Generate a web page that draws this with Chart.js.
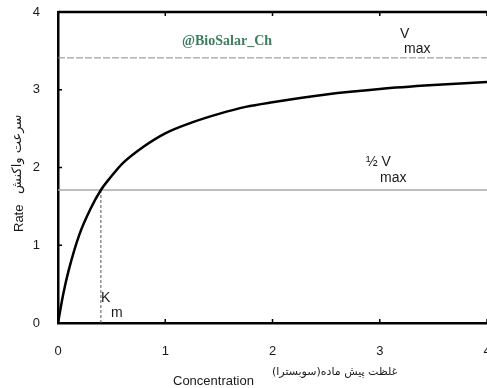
<!DOCTYPE html>
<html>
<head>
<meta charset="utf-8">
<script src="https://cdn.jsdelivr.net/npm/chart.js@4.4.0/dist/chart.umd.min.js"></script>
<style>
  html, body { margin: 0; padding: 0; background: #fff; overflow: hidden; }
  #wrap { width: 487px; height: 388px; }
</style>
</head>
<body>
<div id="wrap"><canvas id="mm" width="487" height="388"></canvas></div>
<script>
// Michaelis-Menten curve
const concentration = [0, 0.05, 0.1, 0.2, 0.3, 0.4, 0.5, 0.6, 0.8, 1.0, 1.25, 1.5, 1.75, 2.0, 2.5, 3.0, 3.5, 4.0];
const rate = [0, 0.38, 0.68, 1.14, 1.46, 1.71, 1.89, 2.05, 2.27, 2.44, 2.58, 2.69, 2.78, 2.84, 2.94, 3.01, 3.06, 3.10];
const vmax = 3.41;
const halfVmax = 1.71;
const km = 0.40;
const xTicks = [0, 1, 2, 3, 4];
const yTicks = [0, 1, 2, 3, 4];

const labelsPlugin = {
    id: 'labels',
    afterDraw(chart) {
        const c = chart.ctx;
        const x = chart.scales.x, y = chart.scales.y;
        const a = chart.chartArea;
        c.save();
        // frame top + inward ticks
        c.strokeStyle = '#000';
        c.lineWidth = 2.5;
        c.beginPath();
        c.moveTo(a.left, a.top);
        c.lineTo(a.right, a.top);
        c.stroke();
        c.lineWidth = 1.5;
        xTicks.slice(1).forEach(v => {
            const px = x.getPixelForValue(v);
            c.beginPath();
            c.moveTo(px, a.bottom); c.lineTo(px, a.bottom - 4);
            c.moveTo(px, a.top); c.lineTo(px, a.top + 4);
            c.stroke();
        });
        yTicks.slice(1).forEach(v => {
            const py = y.getPixelForValue(v);
            c.beginPath();
            c.moveTo(a.left, py); c.lineTo(a.left + 4, py);
            c.stroke();
        });

        c.fillStyle = '#1a1a1a';
        c.textBaseline = 'middle';
        // V max
        c.font = '14px "Liberation Sans", Arial, sans-serif';
        c.textAlign = 'left';
        c.fillText('V', 400, 34);
        c.fillText('max', 404, 49);
        // 1/2 V max
        c.fillText('\u00BD V', 366, 162);
        c.fillText('max', 380, 178);
        // Km
        c.fillText('K', 101, 298);
        c.fillText('m', 111, 313);

        // watermark
        c.fillStyle = '#3b7d60';
        c.font = 'bold 14px "Liberation Serif", serif';
        c.fillText('@BioSalar_Ch', 182, 41);

        // x axis titles
        c.fillStyle = '#1a1a1a';
        c.font = '13px "Liberation Sans", Arial, sans-serif';
        c.fillText('Concentration', 173, 381);
        c.font = '11px "DejaVu Sans", sans-serif';
        c.fillText('غلظت پیش ماده(سوبسترا)', 272, 372);

        // y axis title
        c.translate(19, 232);
        c.rotate(-Math.PI / 2);
        c.font = '13px "Liberation Sans", Arial, sans-serif';
        c.fillText('Rate', 0, 0);
        c.font = '13px "DejaVu Sans", sans-serif';
        c.fillText('سرعت واکنش', 38, -1);
        c.restore();
    }
};

new Chart(document.getElementById('mm'), {
    type: 'scatter',
    data: {
        datasets: [
            {
                data: concentration.map((v, i) => ({ x: v, y: rate[i] })),
                showLine: true,
                borderColor: '#000',
                borderWidth: 2.5,
                pointRadius: 0,
                cubicInterpolationMode: 'monotone'
            },
            {
                data: [{ x: 0, y: vmax }, { x: 4, y: vmax }],
                showLine: true,
                borderColor: '#8a8a8a',
                borderWidth: 1,
                borderDash: [7, 2],
                pointRadius: 0
            },
            {
                data: [{ x: 0, y: halfVmax }, { x: 4, y: halfVmax }],
                showLine: true,
                borderColor: '#a8a8a8',
                borderWidth: 1.5,
                pointRadius: 0
            },
            {
                data: [{ x: km, y: 0 }, { x: km, y: halfVmax }],
                showLine: true,
                borderColor: '#555',
                borderWidth: 1,
                borderDash: [3, 2],
                pointRadius: 0
            }
        ]
    },
    options: {
        responsive: false,
        animation: false,
        layout: { padding: { top: 12, left: 0, right: 0, bottom: 0 } },
        plugins: {
            legend: { display: false },
            tooltip: { enabled: false }
        },
        scales: {
            x: {
                type: 'linear',
                min: 0,
                max: 4,
                afterBuildTicks: s => { s.ticks = xTicks.map(v => ({ value: v })); },
                afterFit: s => { s.height = 65; s.paddingRight = 0; s.paddingLeft = 0; },
                grid: { display: false, drawTicks: false },
                border: { display: true, color: '#000', width: 2.5 },
                ticks: {
                    padding: 21,
                    color: '#1a1a1a',
                    font: { family: '"Liberation Sans", Arial, sans-serif', size: 13 }
                }
            },
            y: {
                type: 'linear',
                min: 0,
                max: 4,
                afterBuildTicks: s => { s.ticks = yTicks.map(v => ({ value: v })); },
                afterFit: s => { s.width = 58; s.paddingTop = 0; s.paddingBottom = 0; },
                grid: { display: false, drawTicks: false },
                border: { display: true, color: '#000', width: 2.5 },
                ticks: {
                    padding: 18,
                    color: '#1a1a1a',
                    font: { family: '"Liberation Sans", Arial, sans-serif', size: 13 }
                }
            }
        }
    },
    plugins: [labelsPlugin]
});
</script>
</body>
</html>
